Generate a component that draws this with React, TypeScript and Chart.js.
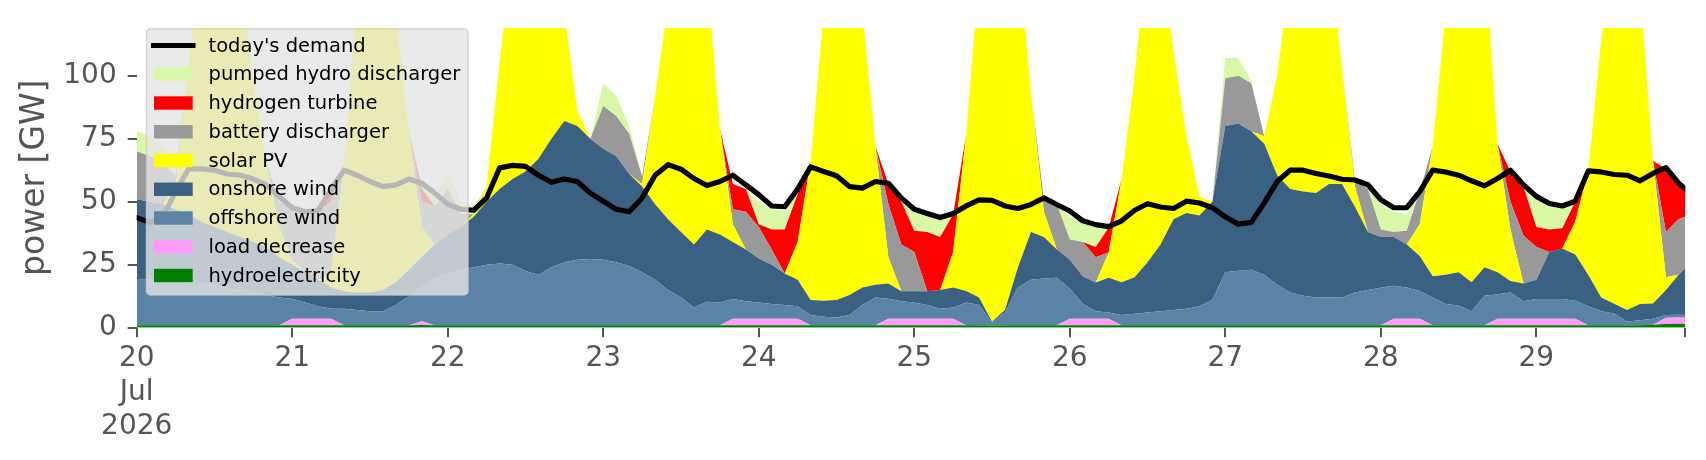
import { useEffect, useRef } from "react"
import { Chart, registerables } from "chart.js"

Chart.register(...registerables)

// two-hourly samples, hours after 20 Jul 2026 00:00 (last sample 29 Jul 23:00)
const hours = [...Array.from({ length: 120 }, (_, i) => i * 2), 239]

const dayTicks = [0, 24, 48, 72, 96, 120, 144, 168, 192, 216, 239]
const dayLabels: (string | string[])[] = [["20", "Jul", "2026"], "21", "22", "23", "24", "25", "26", "27", "28", "29", ""]
const powerTicks = [0, 25, 50, 75, 100]

// GW, one row per day
const hydroelectricity = [
    1, 1, 1, 1, 1, 1, 1, 1, 1, 1, 1, 1,
    1, 1, 1, 1, 1, 1, 1, 1, 1, 1, 1.1, 1,
    1, 1, 1, 1, 1, 1, 1, 1, 1, 1, 1, 1,
    1, 1, 1, 1, 1, 1, 1, 1, 1, 1, 1, 1,
    1, 1, 1, 1, 1, 1, 1, 1, 1, 1, 1, 1,
    1, 1, 1, 1, 1, 1, 0.9, 1, 1, 1, 1, 1,
    1, 1, 1, 1, 1, 1, 1, 1, 1, 1, 1, 1,
    1, 1, 1, 1, 1, 1, 1, 1, 1, 1, 1, 1,
    1, 1, 1, 1, 1, 1, 1, 1, 1, 1, 1, 1,
    1, 1, 1, 1, 1, 1, 1, 1, 1, 1.2, 1.5, 1.6,
    1.5
]
const loadDecrease = [
    0, 0, 0, 0, 0, 0, 0, 0, 0, 0, 0, 0,
    2.6, 2.6, 2.6, 2.6, 0, 0, 0, 0, 0, 0, 1.5, 0,
    0, 0, 0, 0, 0, 0, 0, 0, 0, 0, 0, 0,
    0, 0, 0, 0, 0, 0, 0, 0, 0, 0, 2.6, 2.6,
    2.6, 2.6, 2.6, 2.6, 0, 0, 0, 0, 0, 0, 2.6, 2.6,
    2.6, 2.6, 2.6, 2.6, 0, 0, 0, 0, 0, 0, 0, 0,
    2.6, 2.6, 2.6, 2.6, 0, 0, 0, 0, 0, 0, 0, 0,
    0, 0, 0, 0, 0, 0, 0, 0, 0, 0, 0, 0,
    0, 2.6, 2.6, 2.6, 0, 0, 0, 0, 0, 2.6, 2.6, 2.6,
    2.6, 2.6, 2.6, 2.6, 0, 0, 0, 0, 0, 0, 2.4, 2.4,
    2.4
]
const offshoreWind = [
    18, 18, 18, 17.5, 17, 16.5, 16, 15, 14, 13, 12, 11,
    7.9, 6.4, 4.9, 3.9, 6.5, 6, 5.5, 5.5, 8, 11.5, 13.5, 18.5,
    20.5, 22, 23, 24, 24.5, 24, 21.5, 20, 23, 25, 26, 26.3,
    26, 25, 23.5, 21, 18, 14, 11, 7, 9.3, 9, 7.8, 6.9,
    6.4, 5.8, 5.4, 4.9, 4, 3.3, 3, 4, 8, 11, 7.9, 6.9,
    6.4, 5.4, 3.9, 4.4, 9, 8, 1, 5, 15, 18, 18.5, 18.8,
    11.9, 5.9, 2.9, 2.4, 4, 4.5, 5, 5.5, 6, 6.5, 7.5, 10,
    21, 21.6, 22, 20, 16, 13, 11.7, 11, 11, 11, 13, 14,
    14.9, 13, 12.4, 11, 11, 8.4, 7.8, 5.5, 11.7, 9.7, 10.4, 6.9,
    7.8, 7.8, 7.8, 7.1, 7.5, 5.5, 4.6, 1.5, 2, 2.4, 1.1, 1.1,
    1.1
]
const onshoreWind = [
    32, 31, 30, 28.5, 27, 24.5, 23, 22, 21, 20, 19, 16,
    13.5, 12, 10.5, 8.5, 7, 7, 7.5, 8.5, 9, 10.5, 12, 13.5,
    15.5, 17, 20, 25, 29.5, 34, 39.5, 46, 51, 56, 53, 47.7,
    44, 42, 36.5, 34, 30, 28, 26, 25, 28.7, 27, 22.6, 20.5,
    17.5, 15.6, 12.5, 10.5, 6, 6.4, 7, 8, 7, 5, 6, 4,
    4.5, 5.5, 7.5, 8, 4.6, 3, 0.5, 1, 8, 19, 16.5, 11.2,
    11.5, 10.9, 11.4, 13.8, 13, 14.5, 20, 26.5, 36, 38, 36, 39,
    58, 58.4, 55, 52, 43.5, 41, 41.3, 41.4, 45, 45, 34, 23,
    20.1, 19.4, 17, 13.9, 8.4, 11.6, 13.2, 11.5, 11.3, 8.7, 4.5, 7,
    7.6, 18.6, 20, 18.3, 12.5, 5.5, 3.9, 4.5, 6.4, 6, 10, 16,
    18.7
]
const solarPV = [
    0, 0, 0, 9, 60, 108, 130, 127, 104, 64, 34, 12,
    2, 0, 0, 6, 50.5, 116, 156, 150, 107, 55, 12, 0,
    0, 0, 1, 6, 50, 91, 113, 113, 90, 43, 6, 0,
    0, 0, 0, 1, 43, 85, 127, 142, 101, 42, 7, 0,
    0, 0, 0, 15, 55, 114, 154, 157, 109, 55, 10.5, 0,
    0, 0, 0, 14, 62, 128, 167, 168, 126, 55, 10, 0,
    0, 0, 0, 10, 41, 80, 124, 117, 67, 30.5, 7.5, 0,
    0, 0, 0, 3, 39.5, 85, 111, 116, 93, 46, 8, 0,
    0, 0, 0, 12.5, 51.6, 104, 143, 152, 126, 51, 20.5, 0,
    0, 0, 0, 13, 41, 102, 140, 163, 125, 56.6, 5, 0,
    0
]
const batteryDischarger = [
    19, 18, 17, 4, 0, 0, 0, 0, 0, 0, 0, 10,
    20, 24, 27, 28, 0, 0, 0, 0, 0, 0, 10, 15,
    18, 5, 0, 0, 0, 0, 0, 0, 0, 0, 0, 0,
    17, 16, 16, 3, 0, 0, 0, 0, 0, 0, 6, 15,
    12.5, 6, 0, 0, 0, 0, 0, 0, 0, 0, 21, 18.5,
    15.5, 0, 0, 0, 0, 0, 0, 0, 0, 0, 5, 18,
    8, 13.6, 10.1, 0, 0, 0, 0, 0, 0, 0, 0, 0,
    19, 19, 19, 0, 0, 0, 0, 0, 0, 0, 2.5, 17,
    3, 2, 5.5, 13, 0, 0, 0, 0, 0, 0, 11, 19.1,
    13, 0, 0, 0, 0, 0, 0, 0, 0, 0, 18, 22,
    20.3
]
const hydrogenTurbine = [
    0, 0, 0, 0, 0, 0, 0, 0, 0, 0, 0, 0,
    0, 0, 0, 4, 0, 0, 0, 0, 0, 0, 5, 0,
    0, 0, 0, 0, 0, 0, 0, 0, 0, 0, 0, 0,
    0, 0, 0, 0, 0, 0, 0, 0, 0, 0, 10, 9,
    1, 8, 17.5, 19, 0, 0, 0, 0, 0, 0, 8, 17,
    8.5, 23.5, 21, 15, 0, 0, 0, 0, 0, 0, 0, 0,
    0, 0, 4, 10, 0, 0, 0, 0, 0, 0, 0, 0,
    0, 0, 0, 0, 0, 0, 0, 0, 0, 0, 0, 0,
    0, 0, 0, 0, 0, 0, 0, 0, 0, 0, 12, 19.4,
    8, 9, 8.1, 8, 0, 0, 0, 0, 0, 0, 25, 14,
    11
]
const pumpedHydroDischarger = [
    8, 8, 6, 2, 0, 0, 0, 0, 0, 0, 0, 0,
    0, 0, 0, 0, 0, 0, 0, 0, 0, 0, 2, 4,
    7, 5, 3, 0, 0, 0, 0, 0, 0, 0, 0, 0,
    9, 8, 3, 0, 0, 0, 0, 0, 0, 0, 0, 0,
    9, 8, 7.5, 0, 0, 0, 0, 0, 0, 0, 0, 1,
    8.5, 8, 7, 0, 0, 0, 0, 0, 0, 0, 0, 0,
    9, 9, 8.5, 0, 0, 0, 0, 0, 0, 0, 0, 0,
    8, 7, 1, 0, 0, 0, 0, 0, 0, 0, 0, 0,
    10, 8, 6.5, 0, 0, 0, 0, 0, 0, 0, 0, 0,
    11, 10, 8.5, 0, 0, 0, 0, 0, 0, 0, 0, 0,
    0
]
const todaysDemand = [
    43.7, 41.8, 43.7, 54, 63, 63, 62.5, 61, 60.5, 59, 56.7, 52,
    47.6, 46, 46.5, 55, 62.5, 60.5, 58, 56, 56.7, 59, 57.3, 53.4,
    49, 47, 46.6, 51.5, 63.4, 64.4, 64, 60.5, 57.7, 59, 58, 53.4,
    50.2, 47, 46, 51.5, 60.5, 64.7, 62.9, 59.2, 56.4, 58, 60.5, 56.7,
    52.8, 48.3, 48, 55, 63.8, 62, 60.3, 56, 55.4, 58, 57.3, 51.5,
    47, 45.3, 43.7, 45.3, 48.3, 50.7, 50.5, 48.3, 47.3, 48.9, 51.5, 48.9,
    46.3, 42.4, 40.9, 40.1, 42.4, 46.6, 49.2, 47.9, 47.3, 50.2, 49.5, 47.6,
    44, 41.1, 41.8, 49.5, 58, 62.5, 62.5, 61.2, 60.2, 58.9, 58.6, 56.7,
    50.8, 47.6, 47.6, 54, 62.5, 61.8, 60.5, 58.3, 56.3, 59.2, 62.5, 56.7,
    52.1, 49.3, 48.3, 50.2, 62.2, 61.8, 60.8, 60.5, 58.3, 61.2, 63.5, 57.3,
    55
]

// bottom of the stack first
const supplySeries = [
    { label: "hydroelectricity", values: hydroelectricity, color: "#008000" },
    { label: "load decrease", values: loadDecrease, color: "#ff9cfa" },
    { label: "offshore wind", values: offshoreWind, color: "#5b83a5" },
    { label: "onshore wind", values: onshoreWind, color: "#3b6182" },
    { label: "solar PV", values: solarPV, color: "#ffff00" },
    { label: "battery discharger", values: batteryDischarger, color: "#999999" },
    { label: "hydrogen turbine", values: hydrogenTurbine, color: "#ff0000" },
    { label: "pumped hydro discharger", values: pumpedHydroDischarger, color: "#d9f7a6" }
]

const textGray = "#555555"
const fontFamily = "'DejaVu Sans', sans-serif"

const toPoints = (values: number[]) => hours.map((h, i) => ({ x: h, y: values[i] }))

const legendAndTitle = {
    id: "legendAndTitle",
    afterDraw(chart: Chart) {
        const ctx = chart.ctx
        const area = chart.chartArea
        ctx.save()

        // y axis title
        ctx.save()
        ctx.translate(35, (area.top + area.bottom) / 2)
        ctx.rotate(-Math.PI / 2)
        ctx.font = `33px ${fontFamily}`
        ctx.fillStyle = textGray
        ctx.textAlign = "center"
        ctx.textBaseline = "middle"
        ctx.fillText("power [GW]", 0, 0)
        ctx.restore()

        // legend box
        ctx.beginPath()
        ctx.roundRect(146.5, 29, 321.5, 266, 4)
        ctx.fillStyle = "rgba(229,229,229,0.8)"
        ctx.fill()
        ctx.strokeStyle = "rgba(204,204,204,0.8)"
        ctx.lineWidth = 1.5
        ctx.stroke()

        const rows = [
            { label: "today's demand", color: "#000000", line: true },
            ...supplySeries.slice().reverse().map((s) => ({ label: s.label, color: s.color, line: false }))
        ]
        ctx.font = `19.5px ${fontFamily}`
        ctx.textAlign = "left"
        ctx.textBaseline = "middle"
        rows.forEach((row, i) => {
            const y = 45.5 + i * 28.75
            if (row.line) {
                ctx.beginPath()
                ctx.moveTo(151, y)
                ctx.lineTo(195.5, y)
                ctx.strokeStyle = row.color
                ctx.lineWidth = 5
                ctx.stroke()
            } else {
                ctx.fillStyle = row.color
                ctx.fillRect(154, y - 6.7, 38.7, 13.4)
            }
            ctx.fillStyle = "#000000"
            ctx.fillText(row.label, 208.5, y + 1)
        })
        ctx.restore()
    }
}

function SupplyChart() {
    const chartInstance = useRef<Chart | null>(null)
    const canvasRef = useRef<HTMLCanvasElement>(null)

    useEffect(() => {
        Chart.defaults.font.family = fontFamily
        const instance = new Chart(canvasRef.current!, {
            type: "line",
            data: {
                datasets: [
                    {
                        label: "today's demand",
                        data: toPoints(todaysDemand),
                        borderColor: "#000000",
                        borderWidth: 5.2,
                        borderJoinStyle: "round",
                        borderCapStyle: "round",
                        pointRadius: 0,
                        fill: false,
                        stack: "demand",
                        tension: 0
                    },
                    ...supplySeries.map((s, i) => ({
                        label: s.label,
                        data: toPoints(s.values),
                        backgroundColor: s.color,
                        borderColor: s.color,
                        borderWidth: 0,
                        pointRadius: 0,
                        fill: i === 0 ? "origin" : "-1",
                        stack: "supply",
                        tension: 0
                    }))
                ]
            },
            options: {
                animation: false,
                responsive: true,
                maintainAspectRatio: false,
                layout: { padding: { left: 0, right: 20.6, top: 21.7, bottom: 0 } },
                plugins: {
                    legend: { display: false },
                    tooltip: { enabled: false }
                },
                scales: {
                    x: {
                        type: "linear",
                        min: 0,
                        max: 239,
                        border: { display: false },
                        grid: { drawOnChartArea: false, drawTicks: true, tickLength: 9.5, color: textGray, lineWidth: 2 },
                        ticks: {
                            autoSkip: false,
                            maxRotation: 0,
                            padding: 5,
                            color: textGray,
                            font: { size: 28, family: fontFamily, lineHeight: 1.21 },
                            callback: (value) => {
                                const idx = dayTicks.indexOf(Number(value))
                                return idx >= 0 ? dayLabels[idx] : ""
                            }
                        },
                        afterBuildTicks: (scale) => {
                            scale.ticks = dayTicks.map((v) => ({ value: v }))
                        },
                        afterFit: (scale) => {
                            scale.height = 132.3
                        }
                    },
                    y: {
                        stacked: true,
                        min: 0,
                        max: 119,
                        border: { display: false },
                        grid: { drawOnChartArea: false, drawTicks: true, tickLength: 9, color: textGray, lineWidth: 2 },
                        ticks: {
                            padding: 11,
                            color: textGray,
                            font: { size: 28, family: fontFamily }
                        },
                        afterBuildTicks: (scale) => {
                            scale.ticks = powerTicks.map((v) => ({ value: v }))
                        },
                        afterFit: (scale) => {
                            scale.width = 136.7
                        }
                    }
                }
            },
            plugins: [legendAndTitle]
        })

        chartInstance.current = instance
        return () => {
            instance.destroy()
            chartInstance.current = null
        }
    }, [])

    return (
        <div style={{ position: "absolute", left: 0, top: 0, width: 1706, height: 460, background: "#ffffff" }}>
            <canvas ref={canvasRef}></canvas>
        </div>
    )
}

export default function App() {
    return <SupplyChart />
}
